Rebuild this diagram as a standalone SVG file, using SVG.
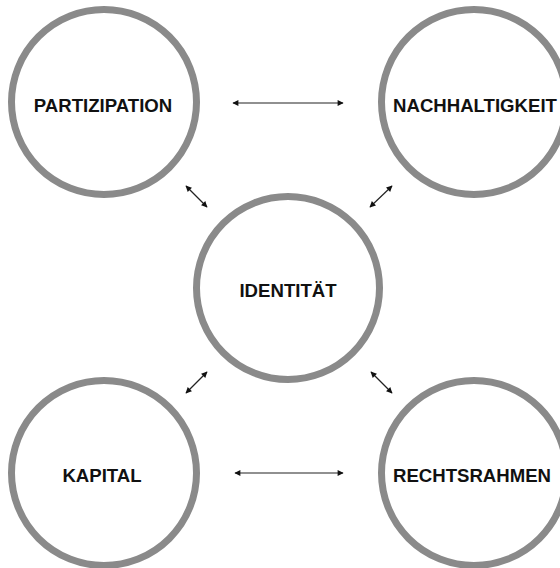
<svg xmlns="http://www.w3.org/2000/svg" width="560" height="568" viewBox="0 0 560 568">
<style>
.node circle{fill:#fff;stroke:#8a8a8a;stroke-width:7}
.node text{font-family:"Liberation Sans",Arial,sans-serif;font-weight:bold;font-size:18.6px;fill:#111;text-anchor:middle}
.conn line{stroke:#222;stroke-width:1.2;marker-start:url(#ah);marker-end:url(#ah)}
</style>
<defs>
<marker id="ah" viewBox="0 0 10 10" refX="9" refY="5" markerWidth="7" markerHeight="6" markerUnits="userSpaceOnUse" orient="auto-start-reverse">
<path d="M0,0 L10,5 L0,10 z" fill="#111"/>
</marker>
</defs>
<rect width="560" height="568" fill="#fff"/>
<g id="partizipation" class="node"><circle cx="104" cy="102" r="92.5"/><text x="103" y="112">PARTIZIPATION</text></g>
<g id="nachhaltigkeit" class="node"><circle cx="474" cy="102" r="92.5"/><text x="475" y="112">NACHHALTIGKEIT</text></g>
<g id="identitaet" class="node"><circle cx="288" cy="288" r="91.5"/><text x="288" y="297">IDENTITÄT</text></g>
<g id="kapital" class="node"><circle cx="104" cy="473" r="92.5"/><text x="102" y="482">KAPITAL</text></g>
<g id="rechtsrahmen" class="node"><circle cx="474" cy="473" r="92.5"/><text x="472" y="482">RECHTSRAHMEN</text></g>
<g id="connectors" class="conn">
<line x1="233" y1="103" x2="343" y2="103"/>
<line x1="235" y1="473" x2="343" y2="473"/>
<line x1="186" y1="186" x2="207" y2="207"/>
<line x1="392" y1="186" x2="370" y2="207"/>
<line x1="207" y1="372" x2="186" y2="393"/>
<line x1="371" y1="372" x2="392" y2="393"/>
</g>
</svg>
